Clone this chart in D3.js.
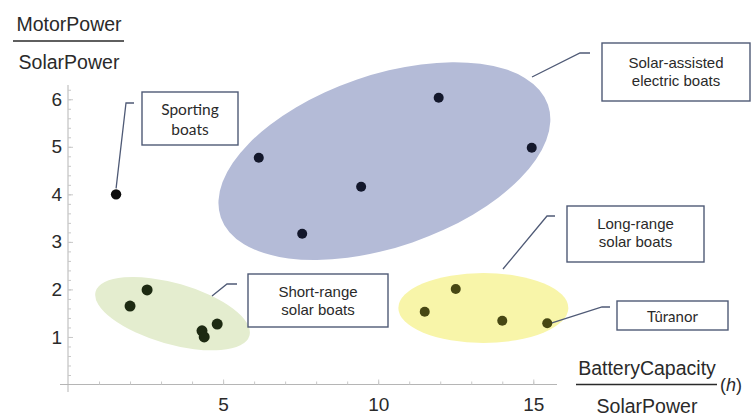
<!DOCTYPE html>
<html>
<head>
<meta charset="utf-8">
<script src="https://cdn.jsdelivr.net/npm/d3@7"></script>
<style>
  body { margin: 0; background: #fff; }
  svg { display: block; }
</style>
</head>
<body>
<div id="chart"></div>
<script>
// boats: battery capacity / solar power (h) vs motor power / solar power
var sportingX = [1.55];
var sportingY = [4.0];
var assistedX = [6.15, 7.55, 9.45, 11.95, 14.95];
var assistedY = [4.77, 3.17, 4.16, 6.03, 4.98];
var shortX    = [2.0, 2.55, 4.32, 4.39, 4.81];
var shortY    = [1.65, 1.99, 1.13, 1.0, 1.27];
var longX     = [11.5, 12.5, 14.0, 15.45];
var longY     = [1.53, 2.01, 1.34, 1.29];

var xTicks = [5, 10, 15];
var yTicks = [1, 2, 3, 4, 5, 6];

var width = 751, height = 419;

var svg = d3.select("#chart").append("svg")
    .attr("width", width)
    .attr("height", height);

var x = d3.scaleLinear().domain([0, 15.7]).range([68, 555]);
var y = d3.scaleLinear().domain([0, 6.3]).range([384.5, 85]);

// group ellipses (center in data units, radii in px)
function ellipse(cx, cy, rx, ry, rot, fill) {
  svg.append("ellipse")
    .attr("cx", 0).attr("cy", 0)
    .attr("rx", rx).attr("ry", ry)
    .attr("transform", "translate(" + x(cx) + "," + y(cy) + ") rotate(" + rot + ")")
    .attr("fill", fill);
}
ellipse(10.2, 4.7, 173, 86, -19, "#b4bbd7");
ellipse(3.37, 1.49, 80, 30.5, 16, "#e4edcf");
ellipse(13.39, 1.61, 85, 35, 0, "#f8f5a9");

// axes
var axisCol = "#b5b5b5";

svg.append("line")
    .attr("x1", 60).attr("x2", 557)
    .attr("y1", y(0)).attr("y2", y(0))
    .attr("stroke", axisCol);
svg.append("line")
    .attr("x1", x(0)).attr("x2", x(0))
    .attr("y1", 85).attr("y2", 392)
    .attr("stroke", axisCol);

var xMinor = d3.range(1, 16);
var yMinor = d3.range(0.2, 6.3, 0.2);

var gx = svg.append("g").attr("transform", "translate(0," + y(0) + ")");
gx.call(d3.axisBottom(x).tickValues(xMinor).tickSize(-3).tickFormat(""));
gx.append("g").call(d3.axisBottom(x).tickValues(xTicks).tickSize(-5).tickPadding(13).tickFormat(d3.format("d")));

var gy = svg.append("g").attr("transform", "translate(" + x(0) + ",0)");
gy.call(d3.axisLeft(y).tickValues(yMinor).tickSize(-3).tickFormat(""));
gy.append("g").call(d3.axisLeft(y).tickValues(yTicks).tickSize(-5).tickPadding(6).tickFormat(d3.format("d")));

svg.selectAll(".domain").remove();
svg.selectAll(".tick line").attr("stroke", "#c8c8c8");
svg.selectAll(".tick text")
    .attr("font-family", "Liberation Sans, Arial, sans-serif")
    .attr("font-size", 19)
    .attr("fill", "#2a2a2a");

// axis titles as fractions
function fraction(cx, top, bottom, yLine, x1, x2) {
  var t = svg.append("g")
      .attr("font-family", "Liberation Sans, Arial, sans-serif")
      .attr("font-size", 19.5)
      .attr("fill", "#2a2a2a")
      .attr("text-anchor", "middle");
  t.append("text").attr("x", cx).attr("y", yLine - 10).text(top);
  t.append("text").attr("x", cx).attr("y", yLine + 28).text(bottom);
  svg.append("line")
      .attr("x1", x1).attr("x2", x2)
      .attr("y1", yLine).attr("y2", yLine)
      .attr("stroke", "#2a2a2a").attr("stroke-width", 1.3);
}
fraction(69, "MotorPower", "SolarPower", 41, 13, 124);
fraction(647, "BatteryCapacity", "SolarPower", 384.5, 576, 717);
svg.append("text")
    .attr("x", 731).attr("y", 391)
    .attr("text-anchor", "middle")
    .attr("font-family", "Liberation Sans, Arial, sans-serif")
    .attr("font-size", 18)
    .attr("fill", "#2a2a2a")
    .html("(<tspan font-style='italic'>h</tspan>)");

// leaders and label boxes
var boxCol = "#4f5a76";

function leader(pts) {
  svg.append("path")
    .attr("d", d3.line()(pts))
    .attr("fill", "none")
    .attr("stroke", boxCol)
    .attr("stroke-width", 1.3);
}

function box(x0, y0, w, h, lines, font, size, lineGap, firstBase) {
  svg.append("rect")
    .attr("x", x0).attr("y", y0)
    .attr("width", w).attr("height", h)
    .attr("fill", "#fff")
    .attr("stroke", boxCol)
    .attr("stroke-width", 1.4);
  var t = svg.append("text")
    .attr("font-family", font)
    .attr("font-size", size)
    .attr("fill", "#2a2a2a")
    .attr("text-anchor", "middle");
  lines.forEach(function(s, i) {
    t.append("tspan")
      .attr("x", x0 + w / 2)
      .attr("y", y0 + firstBase + i * lineGap)
      .text(s);
  });
}

leader([[x(sportingX[0]), y(sportingY[0]) - 6], [126, 103], [134, 103]]);
leader([[532, 77], [580, 53], [590, 53]]);
leader([[503, 269], [547, 216], [555, 216]]);
leader([[x(longX[3]) + 4, y(longY[3])], [602, 307], [610, 307]]);
leader([[212, 296], [227, 284], [237, 284]]);

box(142, 92, 96, 53, ["Sporting", "boats"], "Lato, sans-serif", 15.5, 20, 23);
box(602, 43, 148, 58, ["Solar-assisted", "electric boats"], "Liberation Sans, Arial, sans-serif", 15, 18, 25);
box(567, 206, 137, 56, ["Long-range", "solar boats"], "Liberation Sans, Arial, sans-serif", 15, 18, 23);
box(248, 274, 140, 53, ["Short-range", "solar boats"], "Liberation Sans, Arial, sans-serif", 15, 18, 23);
box(617, 301, 111, 29, ["Tûranor"], "Lato, sans-serif", 15, 18, 21);

// points
function dots(xs, ys, r, fill) {
  svg.append("g").selectAll("circle")
    .data(d3.zip(xs, ys))
    .join("circle")
      .attr("cx", function(d) { return x(d[0]); })
      .attr("cy", function(d) { return y(d[1]); })
      .attr("r", r)
      .attr("fill", fill);
}
dots(sportingX, sportingY, 5.2, "#0c0c0c");
dots(assistedX, assistedY, 5, "#13172b");
dots(shortX, shortY, 5.5, "#1d2a12");
dots(longX, longY, 5, "#474713");
</script>
</body>
</html>
